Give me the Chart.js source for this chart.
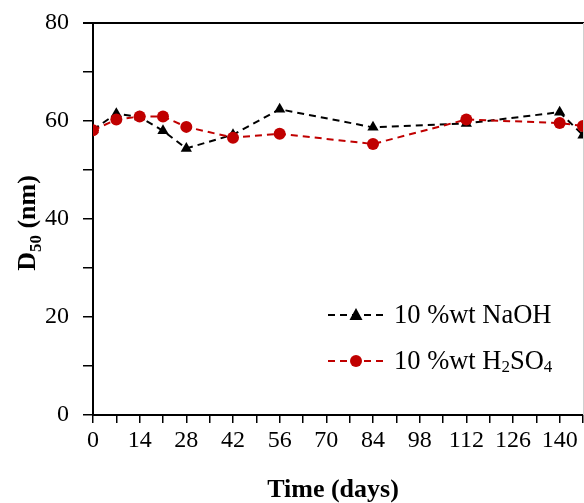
<!DOCTYPE html>
<html>
<head>
<meta charset="utf-8">
<script src="https://cdn.jsdelivr.net/npm/chart.js@4/dist/chart.umd.min.js"></script>
<style>
  html, body { margin: 0; padding: 0; background: #fff; }
  #chart-node { display: block; }
</style>
</head>
<body>
<canvas id="chart-node" width="584" height="503"></canvas>
<script>

// DATA //
const days = [0, 7, 14, 21, 28, 42, 56, 84, 112, 140, 147];
const naohValues = [58.2, 61.5, 60.8, 58.0, 54.4, 57.2, 62.4, 58.7, 59.5, 61.8, 57.1];
const h2so4Values = [58.1, 60.3, 60.9, 60.9, 58.8, 56.6, 57.4, 55.3, 60.3, 59.6, 59.0];
const xTickLabels = [0, 14, 28, 42, 56, 70, 84, 98, 112, 126, 140];
const yTickLabels = [0, 20, 40, 60, 80];

const SERIF = "'Liberation Serif', 'Times New Roman', serif";
const RED = '#c00000';

const toPoints = (values) => values.map((v, i) => ({x: days[i], y: v}));

/**
 * draws text with subscripts, parts = [[text, isSub], ...]
 */
function drawRichText(ctx, parts, x, y, size, bold, align) {
  const weight = bold ? 'bold ' : '';
  const subSize = Math.round(size * 0.65);
  let total = 0;
  parts.forEach(([txt, sub]) => {
    ctx.font = `${weight}${sub ? subSize : size}px ${SERIF}`;
    total += ctx.measureText(txt).width;
  });
  let cx = (align === 'center') ? x - total / 2 : x;
  parts.forEach(([txt, sub]) => {
    ctx.font = `${weight}${sub ? subSize : size}px ${SERIF}`;
    ctx.fillText(txt, cx, sub ? y + size * 0.22 : y);
    cx += ctx.measureText(txt).width;
  });
}

// FRAME, TITLES AND LEGEND //
const decorPlugin = {
  id: 'decor',
  afterDraw(chart) {
    const {ctx, chartArea} = chart;
    ctx.save();

    // top border //
    ctx.strokeStyle = '#000';
    ctx.lineWidth = 2;
    ctx.beginPath();
    ctx.moveTo(chartArea.left - 10, chartArea.top);
    ctx.lineTo(chartArea.right + 1, chartArea.top);
    ctx.stroke();
    // right border (cut off) //
    ctx.strokeStyle = '#d0d0d0';
    ctx.lineWidth = 1;
    ctx.beginPath();
    ctx.moveTo(chartArea.right + 0.5, chartArea.top);
    ctx.lineTo(chartArea.right + 0.5, chartArea.bottom);
    ctx.stroke();

    ctx.fillStyle = '#000';
    ctx.textBaseline = 'alphabetic';

    // x title //
    drawRichText(ctx, [['Time (days)', false]], 333, 497, 26, true, 'center');

    // y title //
    ctx.save();
    ctx.translate(35, 223);
    ctx.rotate(-Math.PI / 2);
    drawRichText(ctx, [['D', false], ['50', true], [' (nm)', false]], 0, 0, 26, true, 'center');
    ctx.restore();

    // legend //
    const rows = [
      {y: 315, color: '#000', style: 'triangle', parts: [['10 %wt NaOH', false]]},
      {y: 361, color: RED, style: 'circle', parts: [['10 %wt H', false], ['2', true], ['SO', false], ['4', true]]}
    ];
    rows.forEach(row => {
      ctx.strokeStyle = row.color;
      ctx.fillStyle = row.color;
      ctx.lineWidth = 2;
      ctx.setLineDash([7, 5]);
      ctx.beginPath();
      ctx.moveTo(328, row.y);
      ctx.lineTo(383, row.y);
      ctx.stroke();
      ctx.setLineDash([]);
      const mx = 356;
      ctx.beginPath();
      if (row.style === 'triangle') {
        ctx.moveTo(mx, row.y - 7);
        ctx.lineTo(mx + 6.5, row.y + 5);
        ctx.lineTo(mx - 6.5, row.y + 5);
        ctx.closePath();
      } else {
        ctx.arc(mx, row.y, 6, 0, Math.PI * 2);
      }
      ctx.fill();

      ctx.fillStyle = '#000';
      ctx.textBaseline = 'middle';
      drawRichText(ctx, row.parts, 394, row.y + 1, 26.5, false, 'left');
      ctx.textBaseline = 'alphabetic';
    });

    ctx.restore();
  }
};

const chart = new Chart(document.getElementById('chart-node'), {
  type: 'line',
  data: {
    datasets: [
      {
        label: '10 %wt NaOH',
        data: toPoints(naohValues),
        order: 2,
        borderColor: '#000',
        backgroundColor: '#000',
        borderWidth: 2,
        borderDash: [7, 5],
        pointStyle: 'triangle',
        pointRadius: 6.5,
        pointBorderWidth: 0,
        tension: 0
      },
      {
        label: '10 %wt H2SO4',
        data: toPoints(h2so4Values),
        order: 1,
        borderColor: RED,
        backgroundColor: RED,
        borderWidth: 2,
        borderDash: [7, 5],
        pointStyle: 'circle',
        pointRadius: 6,
        pointBorderWidth: 0,
        tension: 0
      }
    ]
  },
  options: {
    responsive: false,
    animation: false,
    layout: {autoPadding: false, padding: {top: 23, right: 1, bottom: 0, left: 0}},
    plugins: {
      legend: {display: false},
      tooltip: {enabled: false}
    },
    scales: {
      x: {
        type: 'linear',
        min: 0,
        max: 147,
        afterFit: (scale) => {
          scale.height = 88;
          scale.paddingLeft = 0;
          scale.paddingRight = 0;
        },
        ticks: {
          stepSize: 7,
          autoSkip: false,
          maxRotation: 0,
          padding: 3,
          color: '#000',
          font: {family: SERIF, size: 24},
          callback: (v) => xTickLabels.includes(v) ? String(v) : ''
        },
        grid: {drawOnChartArea: false, drawTicks: true, tickLength: 8, color: '#000', lineWidth: 1.5},
        border: {color: '#000', width: 2}
      },
      y: {
        min: 0,
        max: 80,
        afterFit: (scale) => {
          scale.width = 93;
          scale.paddingTop = 0;
          scale.paddingBottom = 0;
        },
        ticks: {
          stepSize: 10,
          autoSkip: false,
          padding: 14,
          color: '#000',
          font: {family: SERIF, size: 24},
          callback: (v) => yTickLabels.includes(v) ? String(v) : ''
        },
        grid: {drawOnChartArea: false, drawTicks: true, tickLength: 10, color: '#000', lineWidth: 1.5},
        border: {color: '#000', width: 2}
      }
    }
  },
  plugins: [decorPlugin]
});

</script>
</body>
</html>
